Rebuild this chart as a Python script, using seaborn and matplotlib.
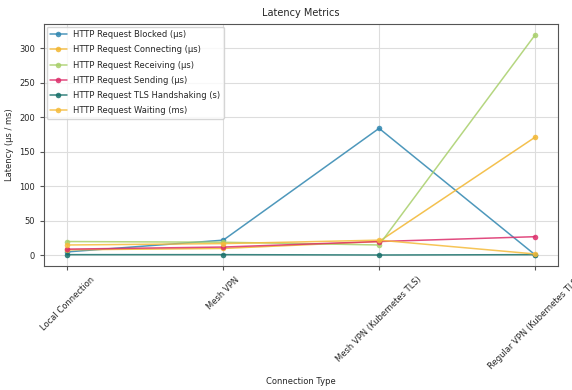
import numpy as np
import pandas as pd
import matplotlib
matplotlib.use("Agg")
import matplotlib.pyplot as plt
import seaborn as sns

connection_types = ["Local Connection", "Mesh VPN", "Mesh VPN (Kubernetes TLS)", "Regular VPN (Kubernetes TLS)"]
series_names = [
    "HTTP Request Blocked (µs)",
    "HTTP Request Connecting (µs)",
    "HTTP Request Receiving (µs)",
    "HTTP Request Sending (µs)",
    "HTTP Request TLS Handshaking (s)",
    "HTTP Request Waiting (ms)",
]
blocked = [5, 22, 184, 1]
connecting = [8, 10, 20, 171]
receiving = [20, 19, 15, 319]
sending = [9, 12, 20, 27]
tls = [1, 1, 0.5, 1]
waiting = [15, 17, 22, 2]
colors = ["#2f86b0", "#f2b630", "#a8cf6a", "#dc2d6a", "#17706a", "#f5bb3a"]

values = [blocked, connecting, receiving, sending, tls, waiting]
rows = []
for name, vals in zip(series_names, values):
    for ct, v in zip(connection_types, vals):
        rows.append({"Connection Type": ct, "Metric": name, "Value": v})
df = pd.DataFrame(rows)

sns.set_style("whitegrid")
plt.rcParams['font.family'] = ['DejaVu Sans']

fig, ax = plt.subplots(figsize=(5.72, 3.90), dpi=100)
fig.subplots_adjust(left=0.077, right=0.976, top=0.938, bottom=0.318)

sns.lineplot(data=df, x="Connection Type", y="Value", hue="Metric",
             hue_order=series_names, palette=colors, marker="o",
             markersize=4, linewidth=1.1, alpha=0.85, markeredgewidth=0,
             sort=False, ax=ax)

ax.set_title("Latency Metrics", fontsize=7)
ax.set_xlabel("Connection Type", fontsize=6)
ax.set_ylabel("Latency (µs / ms)", fontsize=6)
ax.tick_params(axis="both", labelsize=6, length=3, color="#555555")
ax.tick_params(axis="x", bottom=True)
ax.tick_params(axis="y", left=True)
plt.setp(ax.get_xticklabels(), rotation=45, ha="center")
ax.set_yticks([0, 50, 100, 150, 200, 250, 300])
for s in ax.spines.values():
    s.set_color("#555555")
    s.set_linewidth(0.8)
ax.grid(True, color="#dddddd", linewidth=0.8)

leg = ax.legend(loc="upper left", fontsize=6, frameon=True, title=None,
                labelspacing=0.75, borderaxespad=0.3)
leg.get_frame().set_edgecolor("#cccccc")

fig.savefig("out.png", dpi=100)
